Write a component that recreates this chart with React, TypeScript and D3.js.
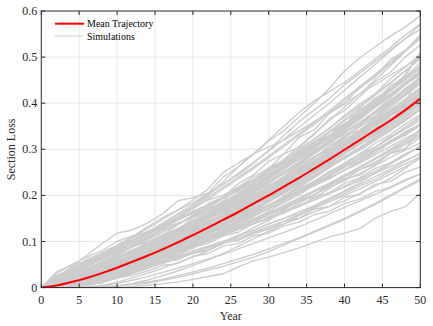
import React from 'react';
import * as d3 from 'd3';

const years = [0, 2, 4, 6, 8, 10, 12, 14, 16, 18, 20, 22, 24, 26, 28, 30, 32, 34, 36, 38, 40, 42, 44, 46, 48, 50];

const meanTrajectory = [0, .0045, .012, .021, .0315, .043, .056, .069, .083, .098, .114, .130, .147, .164, .182, .200, .219, .238, .258, .278, .299, .320, .341, .362, .385, .410];

const simulations: number[][] = [
  [0,.005,.013,.020,.033,.044,.055,.070,.084,.097,.116,.133,.150,.166,.186,.204,.225,.244,.264,.286,.305,.328,.350,.372,.393,.418],
  [0,.001,.006,.014,.022,.032,.044,.055,.068,.080,.095,.110,.126,.140,.156,.172,.188,.206,.224,.241,.262,.280,.298,.318,.336,.355],
  [0,.011,.022,.034,.047,.062,.077,.090,.104,.118,.134,.150,.165,.182,.200,.218,.237,.256,.276,.296,.318,.340,.364,.385,.408,.432],
  [0,0,.002,.007,.014,.023,.033,.045,.058,.072,.088,.104,.122,.140,.158,.178,.198,.218,.238,.260,.282,.304,.326,.348,.370,.394],
  [0,.008,.017,.028,.040,.052,.066,.081,.098,.115,.133,.152,.170,.190,.210,.230,.251,.273,.296,.320,.343,.368,.392,.416,.441,.466],
  [0,.018,.033,.048,.064,.080,.095,.110,.124,.138,.154,.170,.186,.204,.222,.240,.258,.278,.296,.318,.338,.358,.380,.402,.425,.448],
  [0,0,0,.001,.005,.012,.021,.031,.042,.054,.066,.080,.096,.112,.130,.146,.165,.182,.202,.220,.240,.260,.280,.300,.320,.342],
  [0,.006,.014,.024,.034,.046,.060,.072,.088,.104,.120,.136,.155,.172,.190,.210,.228,.248,.268,.290,.312,.334,.356,.378,.400,.422],
  [0,.003,.009,.018,.028,.038,.051,.064,.078,.094,.110,.127,.146,.164,.184,.204,.225,.246,.268,.290,.312,.336,.360,.384,.408,.434],
  [0,.014,.028,.042,.056,.072,.088,.104,.120,.138,.156,.174,.194,.214,.234,.256,.278,.300,.322,.346,.370,.394,.420,.444,.470,.496],
  [0,.004,.012,.021,.032,.042,.054,.066,.079,.092,.106,.120,.134,.150,.164,.180,.194,.210,.226,.244,.262,.280,.298,.316,.334,.352],
  [0,0,0,0,.001,.003,.009,.016,.026,.036,.048,.060,.074,.090,.106,.122,.138,.156,.174,.192,.210,.228,.248,.268,.288,.308],
  [0,.011,.023,.035,.048,.063,.078,.094,.110,.126,.143,.160,.179,.198,.218,.238,.258,.280,.302,.324,.346,.370,.394,.418,.444,.470],
  [0,.008,.018,.028,.040,.052,.064,.076,.090,.104,.118,.133,.149,.164,.180,.196,.214,.232,.250,.270,.290,.310,.330,.350,.372,.394],
  [0,0,.003,.010,.018,.027,.038,.050,.063,.078,.094,.110,.128,.146,.166,.186,.206,.228,.248,.270,.292,.316,.338,.362,.386,.412],
  [0,.021,.038,.054,.070,.086,.102,.116,.130,.146,.162,.178,.196,.214,.232,.250,.270,.290,.310,.330,.352,.374,.398,.420,.444,.468],
  [0,.010,.020,.031,.043,.056,.070,.085,.102,.120,.138,.158,.178,.198,.220,.242,.266,.290,.314,.338,.364,.390,.416,.442,.470,.498],
  [0,0,.001,.006,.013,.022,.031,.042,.053,.064,.076,.088,.100,.112,.124,.138,.150,.164,.178,.194,.208,.224,.240,.256,.274,.292],
  [0,.005,.015,.025,.036,.049,.062,.076,.090,.105,.122,.140,.157,.175,.193,.213,.232,.252,.273,.294,.316,.338,.360,.382,.405,.428],
  [0,.002,.008,.017,.026,.037,.050,.062,.076,.090,.105,.120,.136,.152,.170,.186,.205,.224,.244,.262,.282,.302,.322,.344,.364,.386],
  [0,.015,.028,.041,.054,.068,.082,.095,.108,.122,.136,.150,.165,.180,.195,.212,.230,.248,.266,.286,.306,.326,.346,.366,.386,.408],
  [0,0,.001,.005,.012,.020,.030,.042,.056,.072,.088,.106,.124,.144,.166,.188,.210,.234,.258,.282,.306,.332,.356,.382,.408,.434],
  [0,.016,.032,.048,.064,.082,.100,.118,.136,.156,.176,.196,.218,.240,.262,.286,.310,.334,.358,.384,.410,.436,.462,.488,.514,.544],
  [0,.004,.011,.020,.030,.040,.050,.060,.070,.080,.092,.102,.114,.126,.138,.150,.162,.176,.190,.204,.218,.232,.248,.262,.276,.290],
  [0,.009,.019,.030,.043,.057,.071,.086,.101,.117,.134,.151,.169,.188,.207,.227,.247,.268,.290,.312,.334,.357,.380,.404,.428,.452],
  [0,.001,.005,.012,.020,.030,.042,.054,.066,.080,.095,.110,.126,.142,.160,.178,.198,.220,.242,.266,.290,.314,.340,.364,.390,.416],
  [0,.012,.024,.037,.050,.065,.080,.096,.112,.128,.146,.164,.182,.202,.222,.242,.264,.286,.308,.330,.354,.378,.402,.426,.450,.476],
  [0,0,0,.001,.004,.009,.016,.024,.033,.042,.052,.062,.072,.084,.096,.108,.120,.132,.146,.160,.174,.188,.202,.216,.232,.246],
  [0,.006,.014,.024,.036,.048,.062,.077,.092,.108,.126,.144,.164,.184,.205,.226,.248,.270,.294,.318,.342,.366,.392,.418,.444,.470],
  [0,.003,.010,.019,.029,.040,.052,.065,.079,.094,.110,.126,.143,.160,.178,.196,.215,.234,.254,.274,.295,.316,.337,.358,.380,.402],
  [0,.024,.042,.060,.076,.092,.108,.122,.136,.150,.164,.178,.194,.210,.228,.246,.266,.286,.306,.326,.348,.370,.394,.416,.440,.464],
  [0,.001,.006,.014,.023,.033,.046,.060,.076,.092,.110,.130,.150,.172,.194,.218,.242,.266,.292,.318,.344,.370,.398,.426,.454,.482],
  [0,.008,.017,.027,.038,.050,.062,.074,.086,.098,.110,.122,.136,.150,.164,.178,.192,.206,.222,.238,.254,.270,.288,.306,.324,.340],
  [0,.014,.030,.046,.062,.078,.096,.114,.132,.152,.172,.192,.214,.236,.258,.282,.306,.330,.354,.380,.406,.432,.458,.484,.512,.540],
  [0,0,.002,.008,.015,.024,.034,.046,.058,.072,.086,.102,.118,.136,.154,.172,.190,.210,.230,.250,.270,.290,.312,.332,.354,.376],
  [0,.004,.012,.022,.032,.044,.057,.070,.084,.099,.114,.130,.147,.165,.183,.201,.220,.239,.258,.278,.298,.319,.340,.362,.385,.408],
  [0,.010,.020,.032,.044,.058,.072,.086,.100,.114,.128,.142,.158,.174,.190,.208,.226,.244,.262,.282,.300,.320,.340,.360,.382,.402],
  [0,.003,.010,.018,.028,.040,.053,.066,.081,.096,.112,.129,.147,.166,.186,.206,.228,.250,.272,.295,.318,.342,.366,.390,.416,.442],
  [0,.013,.026,.039,.052,.066,.080,.094,.109,.124,.140,.157,.174,.192,.210,.230,.250,.270,.292,.314,.336,.358,.382,.406,.430,.454],
  [0,.001,.005,.013,.022,.032,.043,.054,.066,.078,.092,.106,.120,.134,.148,.162,.178,.194,.210,.226,.244,.260,.278,.296,.314,.334],
  [0,.009,.018,.029,.040,.053,.066,.080,.094,.109,.125,.141,.158,.176,.194,.212,.231,.250,.270,.290,.312,.334,.356,.378,.400,.424],
  [0,.018,.034,.050,.066,.084,.102,.120,.140,.160,.180,.202,.224,.248,.272,.296,.322,.348,.374,.400,.428,.456,.484,.512,.540,.570],
  [0,.022,.045,.070,.095,.118,.125,.140,.160,.188,.195,.205,.240,.262,.290,.305,.320,.340,.360,.380,.400,.420,.440,.460,.480,.500],
  [0,.012,.025,.040,.055,.070,.090,.108,.125,.150,.175,.200,.230,.262,.290,.318,.340,.370,.400,.432,.470,.498,.522,.545,.565,.590],
  [0,.015,.034,.052,.072,.092,.110,.128,.148,.168,.190,.214,.250,.270,.290,.320,.350,.380,.405,.425,.445,.470,.495,.520,.548,.572],
  [0,.020,.035,.052,.068,.088,.110,.132,.152,.168,.184,.205,.225,.245,.270,.298,.330,.360,.385,.410,.440,.465,.490,.515,.540,.560],
  [0,0,0,0,0,0,.002,.005,.008,.012,.018,.024,.030,.045,.058,.066,.076,.086,.098,.110,.118,.128,.150,.165,.175,.205],
  [0,0,0,.001,.002,.004,.008,.012,.018,.026,.034,.042,.052,.062,.072,.084,.096,.108,.122,.136,.150,.166,.182,.200,.218,.236],
  [0,0,0,0,.001,.003,.006,.010,.016,.022,.030,.038,.046,.056,.066,.078,.092,.106,.120,.134,.148,.164,.180,.198,.216,.232],
  [0,.002,.012,.018,.033,.041,.059,.069,.081,.101,.115,.125,.147,.162,.182,.196,.220,.236,.254,.279,.296,.316,.342,.360,.382,.407],
  [0,.006,.008,.017,.022,.036,.042,.055,.063,.080,.088,.104,.114,.133,.140,.160,.170,.190,.200,.224,.234,.256,.268,.292,.302,.326],
  [0,.009,.014,.029,.035,.055,.064,.085,.096,.121,.133,.158,.170,.200,.212,.243,.258,.289,.304,.337,.352,.387,.402,.437,.456,.488],
  [0,.001,.008,.010,.022,.025,.038,.042,.056,.060,.076,.080,.098,.102,.120,.126,.144,.150,.170,.176,.196,.202,.224,.230,.250,.262],
  [0,.012,.018,.027,.046,.058,.070,.095,.106,.125,.152,.166,.188,.218,.234,.258,.290,.304,.332,.366,.384,.414,.446,.466,.500,.526],
  [0,.003,.013,.019,.026,.041,.048,.060,.078,.086,.102,.120,.130,.146,.168,.178,.196,.216,.230,.252,.266,.290,.304,.328,.344,.368],
  [0,.002,.015,.022,.034,.050,.058,.078,.090,.106,.128,.140,.160,.184,.196,.222,.238,.264,.280,.308,.326,.354,.372,.400,.420,.448],
  [0,.005,.009,.014,.026,.030,.044,.050,.064,.072,.088,.096,.112,.120,.140,.148,.166,.176,.196,.206,.226,.238,.258,.270,.290,.304],
  [0,.010,.022,.028,.040,.048,.062,.070,.086,.094,.110,.120,.138,.148,.166,.176,.196,.208,.228,.242,.264,.278,.300,.314,.338,.354],
  [0,0,.006,.008,.022,.028,.046,.056,.076,.088,.110,.124,.148,.164,.190,.208,.234,.254,.282,.302,.330,.350,.380,.402,.432,.456],
  [0,.004,.006,.022,.030,.034,.060,.070,.080,.104,.112,.136,.150,.156,.190,.206,.214,.246,.262,.276,.310,.326,.338,.372,.400,.466],
  [0,.008,.010,.012,.026,.038,.040,.056,.070,.072,.088,.108,.112,.130,.150,.154,.168,.190,.196,.214,.236,.244,.266,.290,.300,.346],
  [0,.006,.018,.024,.036,.056,.068,.082,.100,.118,.134,.150,.174,.196,.212,.236,.262,.278,.302,.330,.350,.372,.404,.428,.460,.506],
  [0,.002,.004,.014,.020,.024,.038,.046,.052,.064,.074,.082,.096,.104,.116,.128,.138,.150,.164,.176,.188,.204,.220,.236,.258,.284],
  [0,.014,.016,.026,.034,.042,.062,.074,.084,.100,.122,.138,.150,.170,.192,.206,.228,.246,.266,.292,.310,.330,.356,.376,.400,.426],
  [0,0,.010,.022,.028,.040,.050,.066,.080,.090,.104,.120,.136,.150,.170,.188,.204,.224,.240,.262,.280,.298,.318,.340,.362,.388],
  [0,.008,.024,.030,.056,.062,.076,.100,.114,.136,.156,.182,.196,.226,.244,.274,.290,.326,.342,.378,.398,.436,.456,.494,.514,.548],
  [0,0,.002,.008,.010,.022,.026,.036,.048,.052,.068,.074,.090,.096,.112,.118,.134,.142,.158,.166,.182,.192,.208,.218,.234,.246],
  [0,.006,.008,.024,.030,.040,.058,.064,.084,.096,.112,.126,.150,.160,.184,.196,.216,.240,.256,.276,.298,.316,.344,.360,.384,.408],
  [0,.012,.014,.020,.036,.048,.054,.072,.094,.100,.120,.146,.154,.178,.200,.212,.236,.262,.272,.300,.330,.340,.368,.396,.420,.448],
  [0,.014,.022,.030,.036,.044,.056,.062,.070,.084,.092,.104,.114,.128,.138,.152,.162,.178,.192,.204,.220,.236,.252,.268,.286,.306],
  [0,.002,.006,.014,.022,.034,.042,.056,.070,.084,.100,.118,.134,.156,.176,.200,.222,.250,.272,.300,.326,.354,.382,.410,.440,.472],
  [0,.004,.016,.018,.030,.036,.052,.062,.070,.088,.098,.112,.126,.140,.156,.172,.184,.202,.222,.236,.256,.272,.292,.314,.330,.352],
  [0,.004,.010,.030,.040,.050,.074,.086,.102,.126,.140,.160,.186,.204,.226,.252,.272,.298,.322,.344,.374,.398,.420,.452,.478,.506],
  [0,.002,.010,.020,.024,.036,.044,.058,.068,.080,.096,.104,.118,.134,.146,.162,.174,.190,.208,.222,.240,.256,.272,.292,.310,.330],
  [0,.008,.012,.016,.028,.044,.056,.062,.080,.098,.108,.124,.142,.160,.176,.194,.212,.230,.252,.270,.292,.312,.330,.354,.376,.398],
  [0,0,.008,.022,.034,.046,.054,.076,.092,.102,.122,.138,.160,.176,.198,.218,.236,.258,.282,.300,.324,.348,.370,.394,.420,.446],
  [0,.006,.010,.018,.024,.030,.038,.050,.058,.068,.080,.090,.100,.114,.124,.138,.150,.160,.176,.190,.204,.220,.234,.252,.268,.284],
  [0,.010,.020,.024,.032,.046,.060,.070,.082,.096,.114,.128,.144,.160,.178,.196,.214,.236,.252,.274,.294,.312,.336,.354,.378,.402],
  [0,.004,.012,.020,.036,.050,.064,.080,.096,.114,.130,.152,.170,.192,.212,.234,.256,.280,.302,.326,.350,.376,.400,.428,.454,.480],
  [0,.016,.026,.034,.040,.050,.062,.074,.086,.100,.114,.128,.144,.160,.178,.196,.214,.232,.252,.272,.292,.312,.334,.356,.378,.400],
  [0,.002,.004,.016,.030,.036,.042,.060,.074,.080,.098,.114,.122,.140,.160,.170,.190,.210,.220,.242,.262,.274,.296,.318,.332,.356],
  [0,.006,.016,.028,.036,.046,.060,.076,.088,.102,.116,.134,.152,.168,.186,.206,.224,.244,.264,.286,.306,.330,.352,.374,.398,.424],
  [0,0,0,.004,.012,.024,.036,.046,.058,.072,.086,.100,.116,.132,.148,.166,.184,.202,.222,.242,.262,.282,.304,.326,.348,.372],
  [0,.008,.020,.030,.044,.058,.070,.086,.104,.120,.136,.156,.176,.196,.218,.238,.260,.284,.306,.330,.354,.378,.404,.428,.454,.480],
  [0,.004,.008,.016,.024,.034,.044,.056,.066,.078,.090,.104,.116,.130,.144,.158,.172,.186,.202,.218,.232,.248,.264,.282,.298,.314],
  [0,.004,.018,.022,.038,.044,.062,.068,.088,.098,.118,.128,.150,.160,.182,.194,.216,.230,.254,.268,.294,.312,.340,.362,.396,.424],
  [0,.002,.010,.022,.030,.042,.058,.068,.080,.096,.114,.128,.146,.162,.182,.200,.216,.236,.258,.276,.298,.318,.340,.360,.384,.406],
  [0,.006,.014,.020,.030,.038,.048,.060,.074,.086,.100,.116,.130,.146,.162,.178,.194,.212,.230,.248,.266,.286,.304,.324,.344,.362],
  [0,.004,.012,.022,.034,.046,.060,.076,.094,.112,.132,.154,.176,.200,.226,.252,.278,.306,.334,.362,.392,.420,.450,.480,.512,.546],
  [0,.010,.016,.022,.028,.034,.040,.048,.058,.066,.076,.086,.096,.108,.120,.132,.144,.158,.172,.186,.200,.214,.230,.246,.262,.280],
  [0,.004,.014,.028,.036,.044,.054,.070,.086,.096,.110,.128,.142,.158,.178,.192,.212,.234,.250,.272,.296,.314,.336,.360,.380,.404],
  [0,.008,.014,.020,.032,.046,.058,.070,.080,.094,.112,.124,.138,.158,.172,.188,.208,.224,.242,.264,.280,.300,.322,.342,.362,.386],
  [0,.006,.016,.026,.038,.050,.064,.080,.094,.112,.130,.148,.168,.186,.208,.228,.250,.272,.294,.318,.342,.364,.390,.414,.440,.466],
  [0,0,.004,.014,.024,.036,.048,.062,.076,.092,.106,.122,.138,.154,.172,.190,.206,.226,.244,.264,.284,.304,.324,.344,.366,.388],
  [0,.012,.014,.026,.030,.048,.054,.072,.080,.100,.110,.128,.142,.162,.176,.198,.210,.232,.250,.270,.290,.314,.332,.356,.380,.428],
  [0,.002,.006,.012,.022,.030,.042,.052,.064,.076,.090,.104,.118,.132,.146,.162,.176,.194,.210,.226,.244,.262,.280,.298,.318,.340],
  [0,.010,.014,.030,.044,.052,.070,.092,.100,.120,.146,.156,.180,.206,.218,.240,.268,.284,.308,.338,.352,.380,.410,.430,.462,.510],
  [0,.030,.050,.066,.080,.100,.112,.120,.136,.150,.160,.172,.186,.200,.214,.230,.248,.266,.284,.302,.320,.340,.360,.380,.400,.420],
  [0,.026,.040,.060,.072,.084,.100,.116,.134,.148,.166,.180,.196,.210,.226,.244,.262,.280,.298,.318,.338,.358,.378,.398,.420,.442],
  [0,.018,.044,.056,.064,.078,.094,.110,.128,.150,.172,.190,.200,.218,.240,.260,.276,.294,.316,.338,.356,.374,.396,.418,.440,.462],
  [0,.034,.048,.058,.070,.090,.104,.118,.130,.140,.152,.166,.178,.192,.206,.222,.238,.256,.274,.292,.312,.332,.350,.372,.392,.414],
  [0,.010,.030,.052,.068,.076,.090,.106,.120,.138,.156,.174,.194,.212,.232,.252,.274,.294,.316,.338,.362,.384,.408,.432,.456,.480],
  [0,.020,.036,.046,.060,.074,.088,.100,.114,.128,.142,.156,.170,.186,.202,.218,.234,.250,.268,.286,.304,.322,.342,.362,.382,.404],
];

const xTicks = [0, 5, 10, 15, 20, 25, 30, 35, 40, 45, 50];
const yTicks = [0, 0.1, 0.2, 0.3, 0.4, 0.5, 0.6];
const xLabel = 'Year';
const yLabel = 'Section Loss';
const legendLabels = ['Mean Trajectory', 'Simulations'];

const W = 433;
const H = 326;
const M = { left: 41.3, right: 420.3, top: 11, bottom: 287.6 };
const FONT = '"Liberation Serif", "Times New Roman", serif';

export default function App() {
  const x = d3.scaleLinear().domain([0, 50]).range([M.left, M.right]);
  const y = d3.scaleLinear().domain([0, 0.6]).range([M.bottom, M.top]);

  const simLine = d3
    .line<number>()
    .x((_, i) => x(years[i]))
    .y((d) => y(d));
  const meanLine = d3
    .line<number>()
    .x((_, i) => x(years[i]))
    .y((d) => y(d))
    .curve(d3.curveMonotoneX);

  const axisColor = '#262626';
  const gridColor = '#e3e3e3';
  const tickLen = 4;

  return (
    <svg
      width={W}
      height={H}
      style={{ position: 'fixed', left: 0, top: 0, background: '#fff' }}
      fontFamily={FONT}
    >
      <rect x={0} y={0} width={W} height={H} fill="#fff" />
      <g stroke={gridColor} strokeWidth={0.8}>
        {xTicks.slice(1, -1).map((t) => (
          <line key={'gx' + t} x1={x(t)} x2={x(t)} y1={M.top} y2={M.bottom} />
        ))}
        {yTicks.slice(1, -1).map((t) => (
          <line key={'gy' + t} x1={M.left} x2={M.right} y1={y(t)} y2={y(t)} />
        ))}
      </g>
      <defs>
        <clipPath id="plotClip">
          <rect x={M.left} y={M.top} width={M.right - M.left} height={M.bottom - M.top} />
        </clipPath>
      </defs>
      <g clipPath="url(#plotClip)">
        {simulations.map((s, i) => (
          <path key={'s' + i} d={simLine(s) || ''} fill="none" stroke="#cccccc" strokeWidth={1.35} strokeLinejoin="round" />
        ))}
        <path d={meanLine(meanTrajectory) || ''} fill="none" stroke="#ff0000" strokeWidth={2} />
      </g>
      <rect
        x={M.left}
        y={M.top}
        width={M.right - M.left}
        height={M.bottom - M.top}
        fill="none"
        stroke={axisColor}
        strokeWidth={1}
      />
      <g stroke={axisColor} strokeWidth={1}>
        {xTicks.map((t) => (
          <g key={'tx' + t}>
            <line x1={x(t)} x2={x(t)} y1={M.bottom} y2={M.bottom - tickLen} />
            <line x1={x(t)} x2={x(t)} y1={M.top} y2={M.top + tickLen} />
          </g>
        ))}
        {yTicks.map((t) => (
          <g key={'ty' + t}>
            <line x1={M.left} x2={M.left + tickLen} y1={y(t)} y2={y(t)} />
            <line x1={M.right} x2={M.right - tickLen} y1={y(t)} y2={y(t)} />
          </g>
        ))}
      </g>
      <g fontSize={12} fill="#262626">
        {xTicks.map((t) => (
          <text key={'lx' + t} x={x(t)} y={M.bottom + 16} textAnchor="middle">
            {t}
          </text>
        ))}
        {yTicks.map((t) => (
          <text key={'ly' + t} x={M.left - 4} y={y(t) + 4} textAnchor="end">
            {t === 0 ? '0' : d3.format('.1f')(t)}
          </text>
        ))}
      </g>
      <text x={(M.left + M.right) / 2} y={320} textAnchor="middle" fontSize={12} fill="#262626">
        {xLabel}
      </text>
      <text
        transform={`translate(15, ${(M.top + M.bottom) / 2}) rotate(-90)`}
        textAnchor="middle"
        fontSize={12}
        fill="#262626"
      >
        {yLabel}
      </text>
      <g fontSize={10} fill="#000">
        <line x1={55} x2={84} y1={23.7} y2={23.7} stroke="#ff0000" strokeWidth={2} />
        <text x={87} y={27}>{legendLabels[0]}</text>
        <line x1={55} x2={84} y1={36} y2={36} stroke="#cccccc" strokeWidth={1} />
        <text x={87} y={39.5}>{legendLabels[1]}</text>
      </g>
    </svg>
  );
}
